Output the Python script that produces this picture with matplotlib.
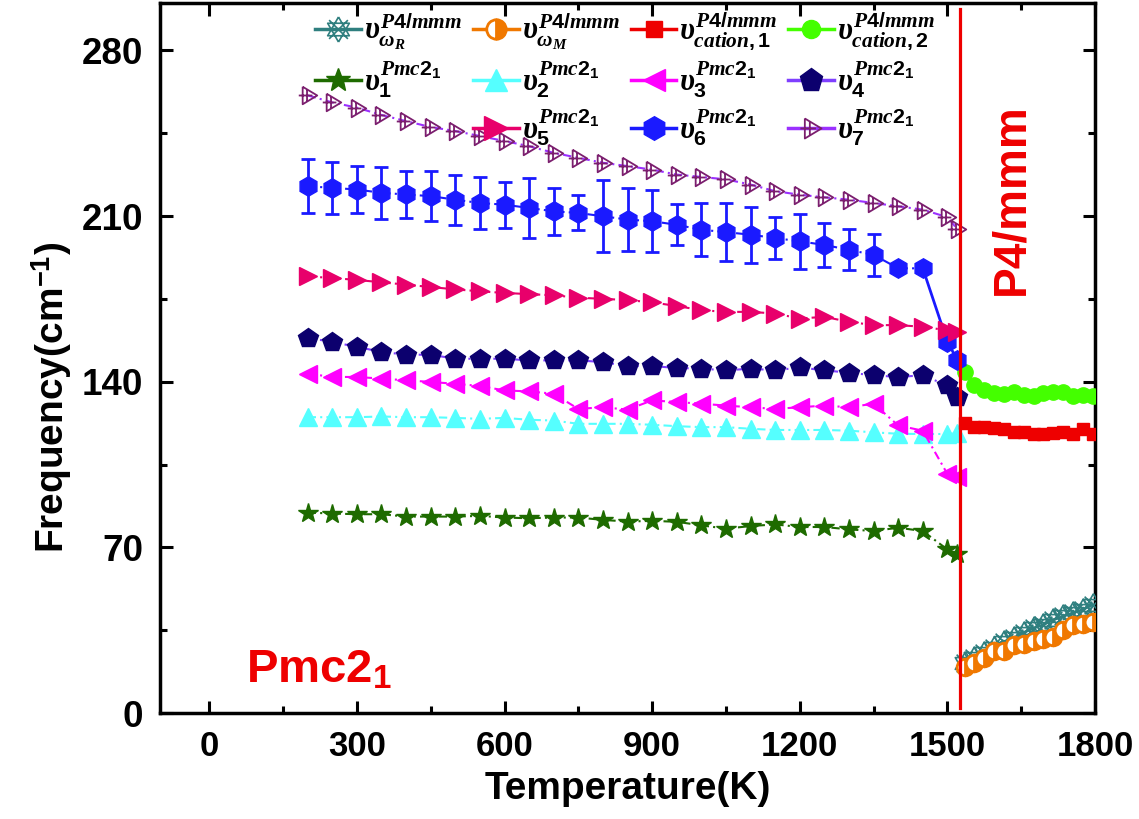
import numpy as np
import matplotlib
matplotlib.use('Agg')
import matplotlib.pyplot as plt
from matplotlib.lines import Line2D
from matplotlib.path import Path
from matplotlib.ticker import MultipleLocator

plt.rcParams['font.family'] = ['Liberation Sans', 'DejaVu Sans']
plt.rcParams['font.weight'] = 'bold'
plt.rcParams['mathtext.fontset'] = 'custom'
plt.rcParams['mathtext.rm'] = 'Liberation Sans:bold'
plt.rcParams['mathtext.bf'] = 'Liberation Sans:bold'
plt.rcParams['mathtext.it'] = 'Liberation Serif:italic:bold'

# Pmc2_1 phase (low temperature)
T_low = [200, 250, 300, 350, 400, 450, 500, 550, 600, 650, 700, 750, 800, 850,
         900, 950, 1000, 1050, 1100, 1150, 1200, 1250, 1300, 1350, 1400, 1450, 1500, 1520]
nu1 = [84.7, 84.3, 84.0, 84.0, 83.0, 83.0, 83.0, 83.3, 82.6, 82.3, 82.6, 82.6, 81.6, 80.9,
       81.2, 80.8, 79.3, 77.9, 79.0, 79.7, 78.6, 78.6, 77.6, 76.9, 78.3, 76.9, 69.1, 67.0]
nu2 = [125.0, 125.0, 125.0, 125.3, 125.0, 125.0, 124.7, 124.3, 124.7, 123.9, 123.6, 122.2, 122.2, 122.2,
       121.8, 121.2, 120.8, 120.8, 120.1, 119.6, 119.6, 119.6, 119.3, 118.6, 118.0, 117.9, 117.9, 118.3]
nu3 = [143.4, 142.0, 142.0, 141.3, 140.6, 139.9, 139.1, 138.2, 136.3, 135.9, 134.9, 128.5, 129.2, 128.2,
       132.1, 131.4, 130.7, 129.9, 129.2, 128.5, 129.2, 129.9, 129.2, 130.7, 121.5, 119.3, 101.0, 99.6]
nu4 = [158.5, 156.8, 154.7, 152.6, 151.4, 151.4, 149.7, 149.7, 149.7, 149.0, 149.0, 149.0, 148.3, 146.6,
       146.6, 145.8, 145.5, 144.8, 145.5, 144.8, 146.0, 144.8, 143.8, 142.7, 142.0, 142.7, 138.4, 133.5]
nu5 = [184.5, 183.8, 183.0, 182.0, 181.0, 180.0, 179.0, 178.2, 177.5, 177.0, 176.5, 175.5, 175.0, 174.5,
       173.5, 172.0, 170.2, 169.5, 169.5, 168.8, 166.7, 167.4, 165.3, 163.9, 163.9, 163.2, 161.7, 161.0]
nu6 = [222.6, 221.9, 221.2, 219.8, 219.1, 218.4, 216.9, 215.5, 214.8, 213.4, 212.0, 211.3, 209.9, 208.5,
       207.8, 206.3, 204.2, 203.2, 202.1, 200.7, 199.3, 197.8, 195.7, 193.6, 187.9, 187.9, 156.8, 149.3]
nu6_err = [11.3, 11.0, 9.8, 11.1, 10.0, 10.6, 10.6, 11.1, 9.7, 12.5, 9.9, 7.4, 15.2, 13.2,
           13.1, 8.6, 11.2, 12.2, 11.9, 9.0, 11.7, 9.2, 8.7, 9.0, 0, 0, 0, 0]
nu7 = [261.0, 258.0, 255.8, 252.7, 250.1, 247.6, 245.9, 243.8, 241.7, 239.5, 236.7, 234.6, 232.5, 231.1,
       229.6, 227.5, 226.5, 225.5, 223.3, 220.5, 219.0, 217.9, 216.9, 215.5, 214.1, 212.7, 209.5, 204.5]

# P4/mmm phase (high temperature)
T_high = [1535, 1555, 1575, 1595, 1615, 1635, 1655, 1675, 1695, 1715, 1735, 1755, 1775, 1795]
cat1 = [122.6, 120.8, 120.8, 120.3, 119.8, 118.6, 118.9, 117.9, 117.9, 118.4, 118.6, 117.9, 119.8, 117.9]
cat2 = [144.1, 138.7, 136.7, 135.3, 134.9, 135.6, 134.2, 133.9, 135.3, 135.6, 135.6, 133.9, 134.2, 133.9]
omega_M = [19.6, 21.1, 23.2, 26.4, 26.0, 28.8, 29.3, 30.5, 31.4, 32.1, 35.2, 37.0, 37.7, 38.4]
omega_R = [21.1, 23.4, 25.3, 27.6, 30.2, 31.6, 34.0, 35.9, 37.3, 39.4, 40.9, 42.3, 43.7, 45.8]

T_c = 1525

# custom markers
M, L = Path.MOVETO, Path.LINETO
star_x = Path([(0, 1), (-0.866, -0.5), (0.866, -0.5), (0, 1),
               (0, -1), (-0.866, 0.5), (0.866, 0.5), (0, -1),
               (-0.75, -0.75), (0.75, 0.75), (-0.75, 0.75), (0.75, -0.75)],
              [M, L, L, L, M, L, L, L, M, L, M, L])
tri_plus = Path([(-0.6, 0.9), (0.9, 0), (-0.6, -0.9), (-0.6, 0.9),
                 (-1.0, 0), (0.4, 0), (-0.15, 0.6), (-0.15, -0.6)],
                [M, L, L, L, M, L, M, L])

c_R = '#2F7F7F'
c_M = '#F07800'
c_c1 = '#EE0000'
c_c2 = '#44FF00'
c1 = '#1E6B00'
c2 = '#55FFFF'
c3 = '#FF00FF'
c4 = '#0C006E'
c4l = '#7F3FFF'
c5 = '#E8006B'
c6 = '#1A1AFF'
c7 = '#7B1E6E'
c7l = '#9B30FF'

dd = (0, (4, 2, 1, 2))

fig = plt.figure(figsize=(11.39, 8.19), dpi=100)
ax = fig.add_axes([0.1405, 0.1294, 0.8209, 0.8669])

ax.plot(T_low, nu1, ls=dd, lw=1.5, color=c1, marker='*', ms=15, mec=c1, zorder=3)
ax.plot(T_low, nu2, ls=dd, lw=1.5, color=c2, marker='^', ms=13, mec=c2, zorder=3)
ax.plot(T_low, nu3, ls=dd, lw=1.5, color=c3, marker='<', ms=13, mec=c3, zorder=3)
ax.plot(T_low, nu4, ls=dd, lw=1.5, color=c4l, marker='p', ms=15, mfc=c4, mec=c4, zorder=3)
ax.errorbar(T_low, nu6, yerr=nu6_err, fmt='h', ms=14, color=c6, ecolor=c6,
            elinewidth=2, capsize=5, capthick=2, zorder=3)
ax.plot(T_low[:26], nu6[:26], ls=dd, lw=1.5, color=c6, zorder=2)
ax.plot(T_low[25:], nu6[25:], ls='-', lw=2, color=c6, zorder=2)
ax.plot(T_low, nu5, ls=dd, lw=1.5, color=c5, marker='>', ms=13, mec=c5, zorder=4)
ax.plot(T_low, nu7, ls=dd, lw=1.5, color=c7l, marker=tri_plus, ms=14,
        mfc='none', mec=c7, mew=1.3, zorder=3)

ax.plot(T_high, omega_R, ls='-', lw=2, color=c_R, marker=star_x, ms=17,
        mfc='none', mec=c_R, mew=1.2, zorder=3)
ax.plot(T_high, omega_M, ls='-', lw=2, color=c_M, marker='o', ms=12, fillstyle='right',
        mfc=c_M, mfcalt='white', mec=c_M, mew=2, zorder=3)
ax.plot(T_high, cat1, ls='-', lw=3, color=c_c1, marker='s', ms=9, mec=c_c1, zorder=3)
ax.plot(T_high, cat2, ls='-', lw=3, color=c_c2, marker='o', ms=11, mec=c_c2, zorder=3)

ax.axvline(T_c, ymin=0.007, ymax=0.992, color='#EE0000', lw=2.3, zorder=5)

ax.text(1629, 217, 'P4/mmm', rotation=90, color='#EE0000', fontsize=33,
        fontweight='bold', ha='center', va='center')
ax.text(75, 13, r'Pmc2$_\mathbf{1}$', color='#EE0000', fontsize=34,
        fontweight='bold', ha='left', va='baseline')

ax.set_xlim(-100, 1800)
ax.set_ylim(0, 300)
ax.xaxis.set_major_locator(MultipleLocator(300))
ax.xaxis.set_minor_locator(MultipleLocator(150))
ax.yaxis.set_major_locator(MultipleLocator(70))
ax.yaxis.set_minor_locator(MultipleLocator(35))
ax.tick_params(which='both', direction='in', top=True, right=True, width=2.2)
ax.tick_params(which='major', length=9, labelsize=25, pad=12)
ax.tick_params(axis='y', which='major', labelsize=26.5)
ax.tick_params(which='minor', length=5)
for s in ax.spines.values():
    s.set_linewidth(2.5)

ax.set_xlabel('Temperature(K)', fontsize=28, fontweight='bold', labelpad=6)
ax.set_ylabel(r'Frequency(cm$^{\mathbf{-1}}$)', fontsize=28, fontweight='bold')
ax.yaxis.set_label_coords(-0.092, 0.445)

# legend (row-major order like the original, with an empty slot in row 3, column 1)
def h(**kw):
    return Line2D([], [], lw=2.5, **kw)

up = r'\mathit{P4/mmm}'
lo = r'\mathit{Pmc2_1}'
handles = [
    h(color=c_R, marker=star_x, ms=18, mfc='none', mec=c_R, mew=1.2),
    h(color=c1, marker='*', ms=18),
    Line2D([], [], lw=0, marker=None),
    h(color=c_M, marker='o', ms=14, fillstyle='right', mfc=c_M, mfcalt='white', mec=c_M, mew=2),
    h(color=c2, marker='^', ms=16),
    h(color=c5, marker='>', ms=17),
    h(color=c_c1, marker='s', ms=11),
    h(color=c3, marker='<', ms=16),
    h(color=c6, marker='h', ms=17),
    h(color=c_c2, marker='o', ms=13),
    h(color=c4l, marker='p', ms=17, mfc=c4, mec=c4),
    h(color=c7l, marker=tri_plus, ms=16, mfc='none', mec=c7, mew=1.3),
]
labels = [
    r'$\mathit{υ}^{%s}_{\mathit{ω_R}}$' % up,
    r'$\mathit{υ}^{%s}_{\mathit{1}}$' % lo,
    '',
    r'$\mathit{υ}^{%s}_{\mathit{ω_M}}$' % up,
    r'$\mathit{υ}^{%s}_{\mathit{2}}$' % lo,
    r'$\mathit{υ}^{%s}_{\mathit{5}}$' % lo,
    r'$\mathit{υ}^{%s}_{\mathit{cation,1}}$' % up,
    r'$\mathit{υ}^{%s}_{\mathit{3}}$' % lo,
    r'$\mathit{υ}^{%s}_{\mathit{6}}$' % lo,
    r'$\mathit{υ}^{%s}_{\mathit{cation,2}}$' % up,
    r'$\mathit{υ}^{%s}_{\mathit{4}}$' % lo,
    r'$\mathit{υ}^{%s}_{\mathit{7}}$' % lo,
]
ax.legend(handles, labels, ncol=4, loc='upper left', bbox_to_anchor=(0.163, 0.995),
          frameon=False, fontsize=22, handlelength=1.5, handletextpad=0.1,
          columnspacing=0.35, labelspacing=0.2, borderpad=0.1, borderaxespad=0.0)

fig.savefig('out.png', dpi=100)
